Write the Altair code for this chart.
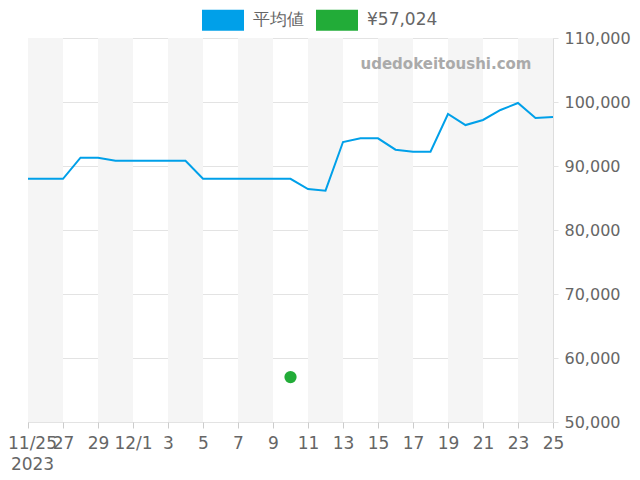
import altair as alt
import pandas as pd

dates = ["2023-11-25", "2023-11-26", "2023-11-27", "2023-11-28", "2023-11-29", "2023-11-30",
         "2023-12-01", "2023-12-02", "2023-12-03", "2023-12-04", "2023-12-05", "2023-12-06",
         "2023-12-07", "2023-12-08", "2023-12-09", "2023-12-10", "2023-12-11", "2023-12-12",
         "2023-12-13", "2023-12-14", "2023-12-15", "2023-12-16", "2023-12-17", "2023-12-18",
         "2023-12-19", "2023-12-20", "2023-12-21", "2023-12-22", "2023-12-23", "2023-12-24",
         "2023-12-25"]
avg_values = [88000, 88000, 88000, 91300, 91300, 90830, 90830, 90830, 90830, 90830, 88000,
              88000, 88000, 88000, 88000, 88000, 86400, 86140, 93750, 94330, 94330, 92550,
              92240, 92240, 98125, 96400, 97190, 98750, 99840, 97500, 97660]
series_names = ["平均値", "¥57,024"]
series_colors = ["#00a0e9", "#22ac38"]
point_date = ["2023-12-10"]
point_value = [57024]
band_starts = ["2023-11-25", "2023-11-29", "2023-12-03", "2023-12-07", "2023-12-11",
               "2023-12-15", "2023-12-19", "2023-12-23"]
band_ends = ["2023-11-27", "2023-12-01", "2023-12-05", "2023-12-09", "2023-12-13",
             "2023-12-17", "2023-12-21", "2023-12-25"]
tick_dates = [(2023, 11, 25), (2023, 11, 27), (2023, 11, 29), (2023, 12, 1), (2023, 12, 3),
              (2023, 12, 5), (2023, 12, 7), (2023, 12, 9), (2023, 12, 11), (2023, 12, 13),
              (2023, 12, 15), (2023, 12, 17), (2023, 12, 19), (2023, 12, 21), (2023, 12, 23),
              (2023, 12, 25)]
y_ticks = [50000, 60000, 70000, 80000, 90000, 100000, 110000]
watermark = "udedokeitoushi.com"

line_df = pd.DataFrame({"date": dates, "value": avg_values})
point_df = pd.DataFrame({"date": point_date, "value": point_value, "series": series_names[1]})
band_df = pd.DataFrame({"start": band_starts, "end": band_ends})

FONT = "DejaVu Sans"
LABEL_COLOR = "#666666"

xscale = alt.Scale(type="utc", domain=[alt.DateTime(year=2023, month=11, date=25, utc=True),
                                       alt.DateTime(year=2023, month=12, date=25, utc=True)])
yscale = alt.Scale(domain=[50000, 110000], nice=False, zero=False)

label_expr = ("datum.index == 0 ? [(utcmonth(datum.value)+1) + '/' + utcdate(datum.value), '2023'] : "
              "(utcdate(datum.value) == 1 ? (utcmonth(datum.value)+1) + '/' + utcdate(datum.value) : "
              "'' + utcdate(datum.value))")

x_axis = alt.Axis(
    values=[alt.DateTime(year=y, month=m, date=d, utc=True) for (y, m, d) in tick_dates],
    labelExpr=label_expr, title=None, grid=False, domain=False,
    tickColor="#cccccc", tickSize=6, labelPadding=7, labelFont=FONT, labelFontSize=17,
    labelColor=LABEL_COLOR, labelOverlap=False, labelFlush=False, labelLineHeight=21,
    labelBound=False, labelAlign="center",
    labelOffset={"condition": {"test": "datum.index == 0", "value": 4}, "value": 0},
)
y_axis = alt.Axis(
    orient="right", values=y_ticks, labelExpr="format(datum.value, ',')", title=None,
    domain=False, gridColor="#e3e3e3", tickColor="#e3e3e3", tickSize=5, labelPadding=6,
    labelFont=FONT, labelFontSize=16, labelColor=LABEL_COLOR, labelBaseline="middle",
    labelOverlap=False,
)

bands = alt.Chart(band_df).mark_rect(color="#f5f5f5").encode(
    x=alt.X("start:T", scale=xscale, axis=x_axis),
    x2="end:T",
)

line = alt.Chart(line_df).mark_line(strokeWidth=2, color=series_colors[0]).encode(
    x=alt.X("date:T", scale=xscale, axis=x_axis),
    y=alt.Y("value:Q", scale=yscale, axis=y_axis),
)

point = alt.Chart(point_df).mark_circle(size=150, opacity=1).encode(
    x=alt.X("date:T", scale=xscale, axis=x_axis),
    y=alt.Y("value:Q", scale=yscale, axis=y_axis),
    color=alt.Color(
        "series:N",
        scale=alt.Scale(domain=series_names, range=series_colors),
        legend=alt.Legend(
            title=None, orient="none", direction="horizontal", legendX=174, legendY=-39,
            symbolType="M-1,-0.5H1V0.5H-1Z", symbolSize=1764, symbolStrokeWidth=0,
            symbolOpacity=1,
            labelFont=FONT, labelFontSize=17, labelColor=LABEL_COLOR, labelOffset=9,
            columnPadding=12,
        ),
    ),
)

wm = alt.Chart(pd.DataFrame({"t": [watermark]})).mark_text(
    font=FONT, fontSize=15, fontWeight="bold", color="#aaaaaa", align="center", baseline="middle"
).encode(text="t:N", x=alt.value(418), y=alt.value(26))

chart = alt.layer(bands, line, point, wm).properties(
    width=525, height=384,
    autosize=alt.AutoSizeParams(type="none"),
    padding={"left": 20, "top": 30, "right": 79, "bottom": 50},
).configure_view(stroke="#cccccc", strokeWidth=2).configure(background="white")

chart.save("out.html", embed_options={"renderer": "svg", "actions": False})
